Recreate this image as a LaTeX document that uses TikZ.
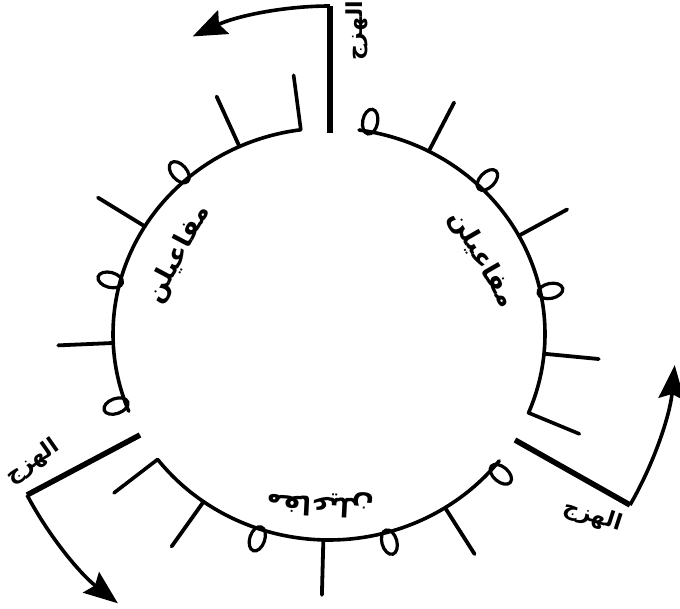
\documentclass[tikz,border=0pt]{standalone}
\usepackage{fontspec}
\newfontfamily\arabicfont[Script=Arabic]{DejaVu Sans}
\TeXXeTstate=1
\usetikzlibrary{arrows.meta}
\begin{document}
\begin{tikzpicture}[x=1pt,y=1pt,
  circ/.style={line width=3.6pt, line join=round, line cap=round},
  tickmark/.style={line width=3.8pt, line cap=round},
  loopmark/.style={line width=3.2pt},
  longline/.style={line width=5.5pt},
  arrowline/.style={line width=3.6pt, -{Stealth[length=34pt,width=26pt,inset=5pt]}},
  word/.style={font=\arabicfont\bfseries\fontsize{26}{30}\selectfont, inner sep=0pt},
  lbl/.style={font=\arabicfont\bfseries\fontsize{22}{26}\selectfont, inner sep=0pt}]
\useasboundingbox (0,0) rectangle (680,608);
\fill[white] (0,0) rectangle (680,608);
\def\cx{329}\def\cy{274}\def\rx{216}\def\ry{206}
\foreach \i/\g in {1/-30,2/90,3/210}{
  \pgfmathsetmacro\angA{\g+7.5}
  \pgfmathsetmacro\angB{\g+112}
  \coordinate (c\i) at ({\cx+\rx*cos(\angA)},{\cy+\ry*sin(\angA)});
  \path (c\i) ++(\angA:55) coordinate (ce\i);
  \draw[circ] (ce\i) -- (c\i) arc[start angle=\angA, end angle=\angB, x radius=\rx, y radius=\ry];
  \foreach \k in {1,3,5}{
    \pgfmathsetmacro\th{\angA+17*\k}
    \coordinate (t\i\k) at ({\cx+\rx*cos(\th)},{\cy+\ry*sin(\th)});
    \path (t\i\k) ++(\th:55) coordinate (te\i\k);
    \draw[tickmark] (t\i\k) -- (te\i\k);
  }
  \foreach \k in {2,4,6}{
    \pgfmathsetmacro\th{\angA+17*\k}
    \coordinate (o\i\k) at ({\cx+\rx*cos(\th)},{\cy+\ry*sin(\th)});
    \draw[loopmark, shift={(o\i\k)}, rotate=\th] (10,0) ellipse[x radius=12.5, y radius=7.5];
  }
}
\coordinate (tin) at (330,475); \coordinate (tout) at (330,602);
\coordinate (lin) at (140,173); \coordinate (lout) at (27,113);
\coordinate (rin) at (515,168); \coordinate (rout) at (630,103);
\draw[longline] (tin) -- (tout);
\draw[longline] (lin) -- (lout);
\draw[longline] (rin) -- (rout);
\draw[arrowline] (tout) arc[start angle=90, end angle=115, radius=325];
\draw[arrowline] (lout) arc[start angle=208, end angle=232, radius=340];
\draw[arrowline] (rout) arc[start angle=-30, end angle=-5.5, radius=346];
\node[word, rotate=-60] (w1) at ({\cx+170*cos(26)},{\cy+170*sin(26)}) {\beginR مفاعيلن\endR};
\node[word, rotate=62] (w2) at ({\cx+170*cos(152)},{\cy+170*sin(152)}) {\beginR مفاعيلن\endR};
\node[word, rotate=177] (w3) at ({\cx+170*cos(267)},{\cy+170*sin(267)}) {\beginR مفاعيلن\endR};
\node[lbl, rotate=90] (l1) at (357,577) {\beginR الهزج\endR};
\node[lbl, rotate=35] (l2) at (33,146) {\beginR الهزج\endR};
\node[lbl, rotate=-18] (l3) at (593,92) {\beginR الهزج\endR};
\end{tikzpicture}
\end{document}
